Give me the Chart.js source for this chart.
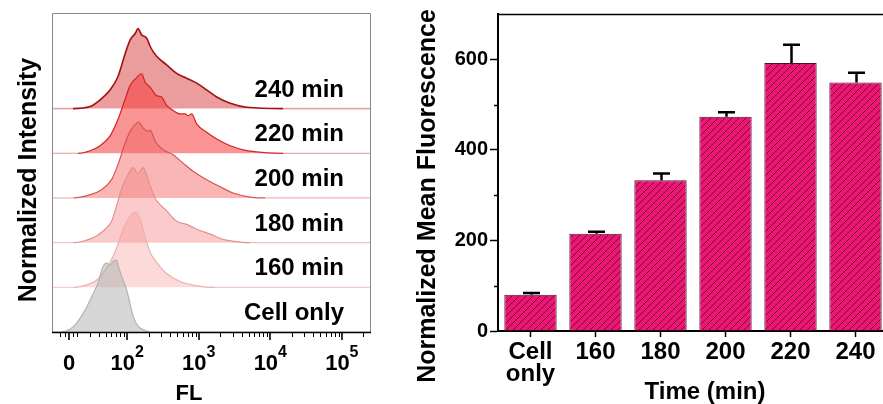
<!DOCTYPE html>
<html>
<head>
<meta charset="utf-8">
<script src="https://cdn.jsdelivr.net/npm/chart.js@4.4.1/dist/chart.umd.min.js"></script>
<style>
  html, body { margin: 0; padding: 0; background: #fff; overflow: hidden; }
  #wrap { position: relative; width: 883px; height: 404px; overflow: hidden; }
  #hist { position: absolute; left: 0; top: 0; }
  #bars { position: absolute; left: 395px; top: 0; }
</style>
</head>
<body>
<div id="wrap">
  <canvas id="hist" width="400" height="404"></canvas>
  <canvas id="bars" width="500" height="404"></canvas>
</div>
<script>
// ---------- Flow cytometry histograms (x: log10 FL position, y: normalized count) ----------
const bandNames = ['Cell only', '160 min', '180 min', '200 min', '220 min', '240 min'];

const histCellOnly = [[1.06,0],[1.2,0.06],[1.29,0.2],[1.43,0.55],[1.5,0.78],[1.55,0.95],[1.59,1.09],[1.66,1.46],[1.71,1.54],[1.76,1.5],[1.8,1.58],[1.85,1.61],[1.88,1.45],[1.92,1.25],[1.99,0.95],[2.04,0.62],[2.08,0.36],[2.13,0.18],[2.18,0.09],[2.27,0.02],[2.33,0]];
const hist160 = [[1.25,0],[1.41,0.045],[1.55,0.135],[1.66,0.32],[1.76,0.56],[1.85,0.88],[1.94,1.29],[2.04,1.59],[2.12,1.68],[2.18,1.52],[2.25,1.12],[2.32,0.78],[2.41,0.56],[2.55,0.31],[2.74,0.13],[2.97,0.034],[3.23,0]];
const hist180 = [[1.25,0],[1.39,0.036],[1.57,0.148],[1.69,0.3],[1.78,0.48],[1.85,0.82],[1.92,1.2],[2.0,1.49],[2.08,1.68],[2.15,1.55],[2.22,1.68],[2.32,1.27],[2.39,0.99],[2.43,0.9],[2.55,0.71],[2.69,0.48],[2.83,0.41],[2.97,0.3],[3.16,0.19],[3.34,0.074],[3.58,0.013],[3.72,0]];
const hist200 = [[1.25,0],[1.48,0.074],[1.64,0.186],[1.78,0.41],[1.87,0.75],[1.97,1.23],[2.04,1.49],[2.11,1.64],[2.16,1.7],[2.22,1.57],[2.28,1.49],[2.32,1.52],[2.39,1.27],[2.5,1.08],[2.64,0.97],[2.78,0.78],[2.92,0.6],[3.11,0.41],[3.3,0.25],[3.48,0.11],[3.72,0.02],[3.93,0]];
const hist220 = [[1.31,0],[1.48,0.058],[1.62,0.17],[1.76,0.39],[1.87,0.76],[1.97,1.21],[2.04,1.52],[2.11,1.66],[2.2,1.78],[2.25,1.59],[2.32,1.48],[2.41,1.29],[2.48,1.26],[2.55,1.07],[2.64,0.96],[2.74,0.88],[2.81,0.88],[2.85,0.84],[2.9,0.88],[2.97,0.66],[3.11,0.47],[3.25,0.32],[3.44,0.17],[3.67,0.058],[3.95,0.01],[4.18,0]];
const hist240 = [[1.24,0],[1.48,0.045],[1.62,0.195],[1.76,0.42],[1.87,0.72],[1.97,1.23],[2.04,1.54],[2.11,1.68],[2.15,1.79],[2.2,1.65],[2.25,1.61],[2.28,1.55],[2.32,1.39],[2.41,1.17],[2.55,0.98],[2.69,0.79],[2.83,0.68],[2.97,0.57],[3.11,0.42],[3.25,0.26],[3.44,0.12],[3.67,0.03],[4.18,0]];
const histTraces = [histCellOnly, hist160, hist180, hist200, hist220, hist240];

// FL axis tick labels and their positions on the decade scale
const flTickLabels = ['0', '10^2', '10^3', '10^4', '10^5'];
const flTickPos = [1.185, 2, 3, 4, 5];

// ---------- Mean fluorescence bar chart ----------
const categories = ['Cell only', '160', '180', '200', '220', '240'];
const meanValues = [80, 215, 333, 473, 592, 549];
const meanErrors = [4, 4, 15, 10, 40, 21];
const yTickValues = [0, 200, 400, 600];
const yMinorValues = [100, 300, 500];

const FONT = "'Liberation Sans', Arial, sans-serif";
const X_MIN = 0.947, X_MAX = 5.394;

// styles per band (bottom to top)
const bandStroke = ['#b3b3b3', '#eab0b0', '#e39090', '#d65454', '#d42222', '#9e1212'];
const bandFill = ['rgba(180,180,180,0.55)', 'rgba(245,150,150,0.35)', 'rgba(245,130,130,0.42)',
                  'rgba(245,100,100,0.48)', 'rgba(245,60,60,0.55)', 'rgba(214,50,50,0.48)'];
const bandBase = ['#c8c8c8', '#f3cccc', '#f0c0c0', '#eeb6b6', '#ebabab', '#e6a3a3'];

const histDatasets = histTraces.map((trace, i) => ({
  label: bandNames[i],
  data: [{ x: X_MIN, y: i }, ...trace.map(([u, h]) => ({ x: u, y: i + h })), { x: X_MAX, y: i }],
  borderColor: bandStroke[i],
  backgroundColor: bandFill[i],
  borderWidth: i === 5 ? 1.6 : 1.2,
  pointRadius: 0,
  fill: { value: i },
  cubicInterpolationMode: 'monotone',
  segment: {
    borderColor: c => (c.p0.parsed.y === i && c.p1.parsed.y === i) ? bandBase[i] : undefined
  }
}));

const histDecor = {
  id: 'histDecor',
  afterDraw(chart) {
    const { ctx, chartArea: a, scales: { x, y } } = chart;
    ctx.save();
    // frame
    ctx.strokeStyle = '#8a8a8a';
    ctx.lineWidth = 1;
    ctx.beginPath();
    ctx.moveTo(a.left + 0.5, a.bottom);
    ctx.lineTo(a.left + 0.5, a.top + 0.5);
    ctx.lineTo(a.right + 0.5, a.top + 0.5);
    ctx.lineTo(a.right + 0.5, a.bottom);
    ctx.stroke();
    // FL axis
    ctx.strokeStyle = '#000';
    ctx.lineWidth = 1.5;
    ctx.beginPath();
    ctx.moveTo(a.left, a.bottom + 0.5);
    ctx.lineTo(a.right + 1, a.bottom + 0.5);
    ctx.stroke();
    // minor ticks: zero region plus log decades
    const minor = [1.06, 1.13, 1.245, 1.30];
    for (let d = 1; d <= 5; d++) {
      for (let k = 2; k <= 9; k++) {
        const p = d + Math.log10(k);
        if (p > 1.35 && p < X_MAX) minor.push(p);
      }
    }
    ctx.lineWidth = 1;
    ctx.beginPath();
    minor.forEach(p => {
      const px = Math.round(x.getPixelForValue(p)) + 0.5;
      ctx.moveTo(px, a.bottom); ctx.lineTo(px, a.bottom + 5);
    });
    ctx.stroke();
    ctx.lineWidth = 1.6;
    ctx.beginPath();
    flTickPos.forEach(p => {
      const px = Math.round(x.getPixelForValue(p));
      ctx.moveTo(px, a.bottom); ctx.lineTo(px, a.bottom + 8);
    });
    ctx.stroke();
    // tick labels with superscript exponents
    ctx.fillStyle = '#000';
    ctx.textBaseline = 'alphabetic';
    ctx.textAlign = 'left';
    flTickLabels.forEach((lab, i) => {
      const px = x.getPixelForValue(flTickPos[i]);
      const [base, exp] = lab.split('^');
      ctx.font = `bold 22px ${FONT}`;
      const wb = ctx.measureText(base).width;
      let we = 0;
      if (exp) { ctx.font = `bold 16px ${FONT}`; we = ctx.measureText(exp).width; }
      const start = px - (wb + we) / 2;
      ctx.font = `bold 22px ${FONT}`;
      ctx.fillText(base, start, 370);
      if (exp) { ctx.font = `bold 16px ${FONT}`; ctx.fillText(exp, start + wb, 357); }
    });
    // axis titles
    ctx.font = `bold 22px ${FONT}`;
    ctx.textAlign = 'center';
    ctx.fillText('FL', 189, 400);
    ctx.save();
    ctx.translate(36, 180);
    ctx.rotate(-Math.PI / 2);
    ctx.font = `bold 25px ${FONT}`;
    ctx.fillText('Normalized Intensity', 0, 0);
    ctx.restore();
    // band labels
    ctx.font = `bold 24px ${FONT}`;
    ctx.textAlign = 'right';
    bandNames.forEach((name, i) => {
      ctx.fillText(name, 344, y.getPixelForValue(i) - 12);
    });
    ctx.restore();
  }
};

new Chart(document.getElementById('hist'), {
  type: 'line',
  data: { datasets: histDatasets },
  options: {
    responsive: false,
    animation: false,
    layout: { padding: { left: 52, right: 30, top: 13, bottom: 72 } },
    plugins: { legend: { display: false }, tooltip: { enabled: false } },
    scales: {
      x: { type: 'linear', min: X_MIN, max: X_MAX, display: false },
      y: { type: 'linear', min: 0, max: 7.14, display: false }
    }
  },
  plugins: [histDecor]
});

// ---------- bar chart ----------
function hatchPattern() {
  const n = 7;
  const c = document.createElement('canvas');
  c.width = c.height = n;
  const g = c.getContext('2d');
  g.fillStyle = '#ec1673';
  g.fillRect(0, 0, n, n);
  g.strokeStyle = 'rgba(60,0,30,0.75)';
  g.lineWidth = 0.9;
  g.beginPath();
  g.moveTo(0, n); g.lineTo(n, 0);
  g.moveTo(-1, 1); g.lineTo(1, -1);
  g.moveTo(n - 1, n + 1); g.lineTo(n + 1, n - 1);
  g.stroke();
  return g.createPattern(c, 'repeat');
}

const barDecor = {
  id: 'barDecor',
  afterDatasetsDraw(chart) {
    const { ctx, scales: { y } } = chart;
    const meta = chart.getDatasetMeta(0);
    ctx.save();
    // error bars (upper only)
    ctx.strokeStyle = '#000';
    ctx.lineWidth = 2.5;
    meta.data.forEach((bar, i) => {
      const top = y.getPixelForValue(meanValues[i] + meanErrors[i]);
      const bx = Math.round(bar.x) + 0.5;
      ctx.beginPath();
      ctx.moveTo(bx, y.getPixelForValue(meanValues[i]));
      ctx.lineTo(bx, top);
      ctx.moveTo(bx - 8.5, top);
      ctx.lineTo(bx + 8.5, top);
      ctx.stroke();
    });
    ctx.restore();
  },
  afterDraw(chart) {
    const { ctx, chartArea: a, scales: { y } } = chart;
    ctx.save();
    ctx.strokeStyle = '#000';
    // top frame line
    ctx.lineWidth = 1.5;
    ctx.beginPath();
    ctx.moveTo(a.left, a.top + 0.5);
    ctx.lineTo(a.right, a.top + 0.5);
    ctx.stroke();
    // minor y ticks
    ctx.beginPath();
    yMinorValues.forEach(v => {
      const py = Math.round(y.getPixelForValue(v)) + 0.5;
      ctx.moveTo(a.left - 4, py); ctx.lineTo(a.left, py);
    });
    ctx.stroke();
    // axis titles
    ctx.fillStyle = '#000';
    ctx.textBaseline = 'alphabetic';
    ctx.textAlign = 'center';
    ctx.font = `bold 24px ${FONT}`;
    ctx.fillText('Time (min)', a.left + 207, 399);
    ctx.translate(40, 196);
    ctx.rotate(-Math.PI / 2);
    ctx.font = `bold 25px ${FONT}`;
    ctx.fillText('Normalized Mean Fluorescence', 0, 0);
    ctx.restore();
  }
};

new Chart(document.getElementById('bars'), {
  type: 'bar',
  data: {
    labels: categories.map(c => c.split(' ')),
    datasets: [{
      data: meanValues,
      backgroundColor: hatchPattern(),
      borderColor: '#4a1030',
      borderWidth: 1,
      categoryPercentage: 1,
      barPercentage: 0.805
    }]
  },
  options: {
    responsive: false,
    animation: false,
    layout: { padding: { left: 0, right: 7, top: 13, bottom: 0 } },
    plugins: { legend: { display: false }, tooltip: { enabled: false } },
    scales: {
      x: {
        offset: true,
        grid: { drawOnChartArea: false, drawTicks: true, tickLength: 6, tickColor: '#000', tickWidth: 1.5, offset: false },
        border: { color: '#000', width: 2 },
        ticks: { color: '#000', font: { family: FONT, size: 24, weight: 'bold', lineHeight: 0.92 }, padding: 4, maxRotation: 0, autoSkip: false },
        afterFit(s) { s.height = 73; }
      },
      y: {
        min: 0, max: 700,
        afterBuildTicks(s) { s.ticks = yTickValues.map(v => ({ value: v })); },
        grid: { drawOnChartArea: false, drawTicks: true, tickLength: 8, tickColor: '#000', tickWidth: 1.5 },
        border: { color: '#000', width: 2 },
        ticks: { color: '#000', font: { family: FONT, size: 20, weight: 'bold' }, padding: 2 },
        afterFit(s) { s.width = 103; }
      }
    }
  },
  plugins: [barDecor]
});
</script>
</body>
</html>
